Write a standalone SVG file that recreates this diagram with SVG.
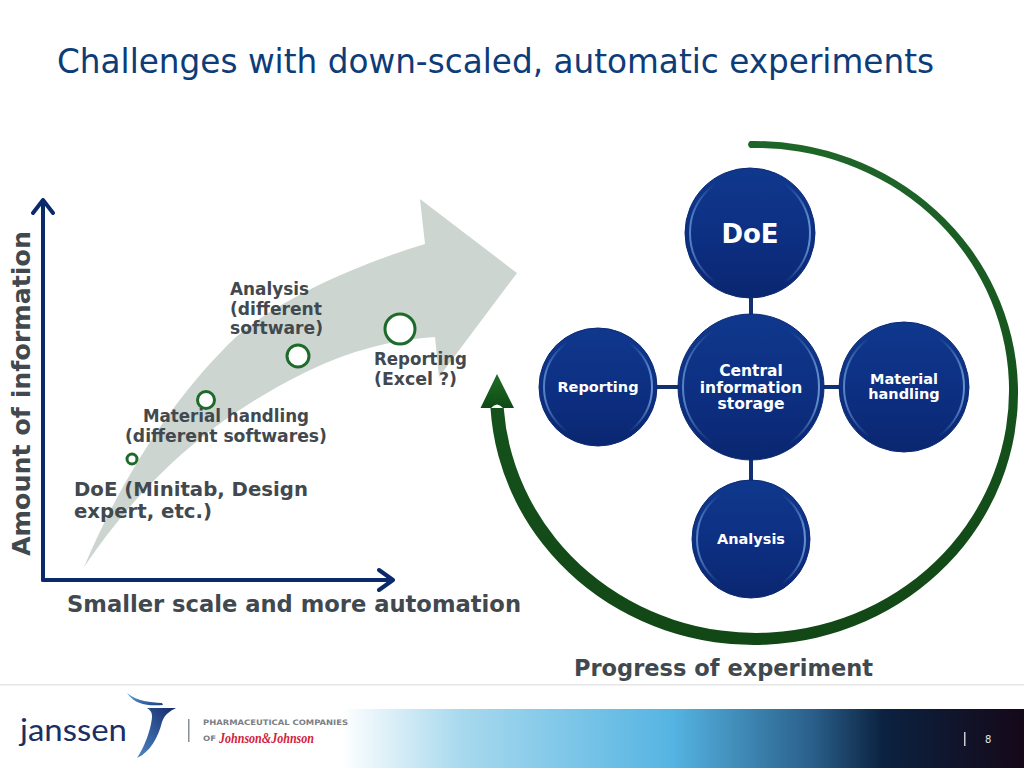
<svg xmlns="http://www.w3.org/2000/svg" width="1024" height="768" viewBox="0 0 1024 768">
<defs>
<style>
text{font-family:"DejaVu Sans",Verdana,sans-serif}
.g{fill:#41494f;font-weight:bold}
.w{fill:#fff;font-weight:bold;text-anchor:middle}
.rim{fill:url(#ball);stroke:#0c2a74;stroke-width:1}
.inner{fill:none;stroke:url(#hl);stroke-width:2}
.sp{fill:#fff;stroke:#1d6b2a;stroke-width:3}
.ax{fill:none;stroke:#0b2a6b;stroke-width:4;stroke-linecap:round;stroke-linejoin:round}
.con{stroke:#12306f;stroke-width:4;fill:none}
</style>
<linearGradient id="ball" x1="0" y1="0" x2="0" y2="1"><stop offset="0" stop-color="#0f388c"/><stop offset="0.55" stop-color="#0d2f82"/><stop offset="1" stop-color="#0a2670"/></linearGradient>
<linearGradient id="hl" x1="0" y1="0" x2="1" y2="0"><stop offset="0" stop-color="#5f8ccc" stop-opacity="0.9"/><stop offset="0.22" stop-color="#3a68b4" stop-opacity="0"/><stop offset="0.78" stop-color="#3a68b4" stop-opacity="0"/><stop offset="1" stop-color="#6f9cd8" stop-opacity="0.9"/></linearGradient>
<linearGradient id="band" x1="0" y1="0" x2="1" y2="0"><stop offset="0.03" stop-color="#fff"/><stop offset="0.2" stop-color="#a8d9ee"/><stop offset="0.5" stop-color="#55b4e2"/><stop offset="0.7" stop-color="#2a5f8a"/><stop offset="0.8" stop-color="#0b2240"/><stop offset="1" stop-color="#150818"/></linearGradient>
<linearGradient id="ring" x1="0" y1="0" x2="0" y2="1"><stop offset="0" stop-color="#1f6629"/><stop offset="0.5" stop-color="#15521c"/><stop offset="1" stop-color="#124716"/></linearGradient>
<linearGradient id="head" x1="0" y1="0" x2="0" y2="1"><stop offset="0" stop-color="#1f6e26"/><stop offset="1" stop-color="#0f4a14"/></linearGradient>
<linearGradient id="sw" x1="0" y1="0" x2="1" y2="1"><stop offset="0" stop-color="#5fa6d6"/><stop offset="1" stop-color="#1d3f86"/></linearGradient>
<linearGradient id="sw2" x1="1" y1="0" x2="0" y2="1"><stop offset="0" stop-color="#14296a"/><stop offset="1" stop-color="#4f86c4"/></linearGradient>
</defs>
<rect width="1024" height="768" fill="#fff"/>
<g id="title"><text x="57" y="73" font-size="33" fill="#0d3c78" textLength="877" lengthAdjust="spacingAndGlyphs">Challenges with down-scaled, automatic experiments</text></g>

<g id="growth-arrow"><path d="M84 567 C125 470 180 390 236 337 C285 295 365 262 425 244 L420 199 L517 273 L439 377 L435 337 C385 340 340 355 304 373 C220 415 150 470 84 567Z" fill="#cdd5d0"/></g>

<g id="axes"><path class="ax" d="M43 580V200M33 213L43 200L53 213"/><path class="ax" d="M43 580H393M379 570L393 580L379 590"/></g>
<g id="y-label"><text class="g" transform="translate(30 556) rotate(-90)" font-size="24" textLength="325" lengthAdjust="spacingAndGlyphs">Amount of information</text></g>
<g id="x-label"><text class="g" x="67" y="612" font-size="23" textLength="454" lengthAdjust="spacingAndGlyphs">Smaller scale and more automation</text></g>

<g id="step-doe"><circle class="sp" cx="132" cy="459" r="5"/><text class="g" font-size="20"><tspan x="74" y="496" textLength="234" lengthAdjust="spacingAndGlyphs">DoE (Minitab, Design</tspan><tspan x="74" y="518" textLength="138" lengthAdjust="spacingAndGlyphs">expert, etc.)</tspan></text></g>
<g id="step-material"><circle class="sp" cx="206" cy="400" r="8.500"/><text class="g" font-size="17"><tspan x="143" y="422" textLength="166" lengthAdjust="spacingAndGlyphs">Material handling</tspan><tspan x="125" y="442" textLength="202" lengthAdjust="spacingAndGlyphs">(different softwares)</tspan></text></g>
<g id="step-analysis"><circle class="sp" cx="298" cy="356" r="11"/><text class="g" font-size="17"><tspan x="230" y="295" textLength="79" lengthAdjust="spacingAndGlyphs">Analysis</tspan><tspan x="230" y="315" textLength="92" lengthAdjust="spacingAndGlyphs">(different</tspan><tspan x="230" y="334" textLength="93" lengthAdjust="spacingAndGlyphs">software)</tspan></text></g>
<g id="step-reporting"><circle class="sp" cx="400" cy="329" r="15"/><text class="g" font-size="17"><tspan x="374" y="365" textLength="93" lengthAdjust="spacingAndGlyphs">Reporting</tspan><tspan x="374" y="385" textLength="83" lengthAdjust="spacingAndGlyphs">(Excel ?)</tspan></text></g>

<g id="progress-arc">
<path d="M750 141 A264 252 0 1 1 490.500 408 L503.700 408 A253 242.500 0 1 0 750 148 Q746 144.500 750 141Z" fill="url(#ring)"/>
<path d="M497 374 L514 408 L503 408 Q497 401 491 408 L480.500 408Z" fill="url(#head)"/>
</g>
<g id="progress-label"><text class="g" x="574" y="676" font-size="22.500" textLength="299" lengthAdjust="spacingAndGlyphs">Progress of experiment</text></g>

<g id="connectors"><path class="con" d="M751 296V316M751 458V484M655 387H680M822 387H842"/></g>

<g id="node-doe"><circle class="rim" cx="750" cy="233" r="65"/><circle class="inner" cx="750" cy="233" r="60"/><text class="w" x="750" y="243" font-size="26">DoE</text></g>
<g id="node-central"><circle class="rim" cx="751" cy="387" r="73"/><circle class="inner" cx="751" cy="387" r="68"/><text class="w" font-size="15.500"><tspan x="751" y="376">Central</tspan><tspan x="751" y="392.500">information</tspan><tspan x="751" y="409">storage</tspan></text></g>
<g id="node-reporting"><circle class="rim" cx="598" cy="387" r="59"/><circle class="inner" cx="598" cy="387" r="54"/><text class="w" x="598" y="392" font-size="14.500">Reporting</text></g>
<g id="node-material"><circle class="rim" cx="904" cy="387" r="65"/><circle class="inner" cx="904" cy="387" r="60"/><text class="w" font-size="14.500"><tspan x="904" y="384">Material</tspan><tspan x="904" y="399">handling</tspan></text></g>
<g id="node-analysis"><circle class="rim" cx="751" cy="539" r="59"/><circle class="inner" cx="751" cy="539" r="54"/><text class="w" x="751" y="544" font-size="14.500">Analysis</text></g>

<g id="footer">
<rect x="0" y="684" width="1024" height="1.500" fill="#e6e6e6"/>
<rect x="320" y="709" width="704" height="59" fill="url(#band)"/>
<path d="M127 693 C138 702 150 702 162 703 L163 705 C148 706 135 705 127 693Z" fill="url(#sw)"/>
<path d="M147 708 H176 C170 711 165 714 162 722 C158 738 150 752 137 758 C146 745 152 725 152 716 C152 712 150 710 147 708Z" fill="url(#sw2)"/>
<text x="20" y="741" font-size="31" fill="#1c2f63" style="font-family:Lato,sans-serif" textLength="107" lengthAdjust="spacingAndGlyphs">janssen</text>
<rect x="188" y="719" width="1.500" height="23" fill="#8a8f94"/>
<text x="203" y="725" font-size="7.500" font-weight="bold" fill="#7b7f85" textLength="145" lengthAdjust="spacingAndGlyphs">PHARMACEUTICAL COMPANIES</text>
<text x="203" y="741" font-size="7.500" font-weight="bold" fill="#7b7f85" textLength="13" lengthAdjust="spacingAndGlyphs">OF</text>
<text x="219" y="743" font-size="15" font-style="italic" font-weight="bold" fill="#d3213a" style="font-family:'Liberation Serif',serif" textLength="95" lengthAdjust="spacingAndGlyphs">Johnson&amp;Johnson</text>
<rect x="964" y="732" width="1.500" height="14" fill="#c8ccd0"/>
<text x="985" y="743" font-size="10" fill="#e4e8ec">8</text>
</g>
</svg>
